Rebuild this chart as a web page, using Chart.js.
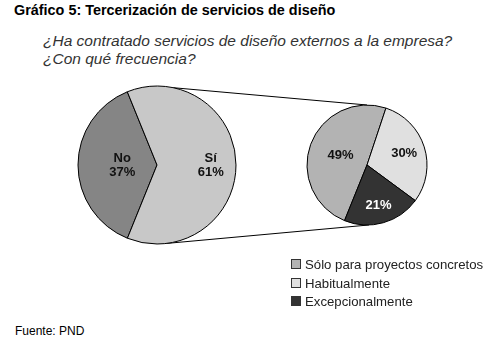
<!DOCTYPE html>
<html>
<head>
<meta charset="utf-8">
<script src="https://cdn.jsdelivr.net/npm/chart.js@4.4.0/dist/chart.umd.min.js"></script>
<style>
    body { margin: 0; background: #fff; font-family: "Liberation Sans", Arial, sans-serif; }
    #wrap { position: relative; width: 492px; height: 350px; overflow: hidden; }
    .title { position: absolute; left: 14px; top: 2px; font-size: 14.4px; font-weight: bold; color: #000; white-space: nowrap; }
    .question { position: absolute; left: 43px; font-size: 15.5px; font-style: italic; color: #333; white-space: nowrap; }
    #big-wrap { position: absolute; left: 0; top: 70px; width: 492px; height: 190px; }
    #small-wrap { position: absolute; left: 300px; top: 98px; width: 134px; height: 134px; z-index: 2; }
    #legend { position: absolute; left: 291px; top: 256px; font-size: 13.2px; color: #222; }
    .leg-row { height: 18.5px; line-height: 18px; white-space: nowrap; }
    .leg-box { display: inline-block; width: 8px; height: 8px; border: 1px solid #333; margin-right: 4px; vertical-align: 0px; }
    .source { position: absolute; left: 15px; top: 324px; font-size: 12px; color: #000; }
</style>
</head>
<body>
<div id="wrap">
    <div class="title">Gráfico 5: Tercerización de servicios de diseño</div>
    <div class="question" style="top: 32px;">¿Ha contratado servicios de diseño externos a la empresa?</div>
    <div class="question" style="top: 50px;">¿Con qué frecuencia?</div>
    <div id="big-wrap"><canvas id="big-chart" width="492" height="190"></canvas></div>
    <div id="small-wrap"><canvas id="small-chart" width="134" height="134"></canvas></div>
    <div id="legend"></div>
    <div class="source">Fuente: PND</div>
</div>
<script>
// Data
const bigLabels = ['No', 'Sí'];
const bigValues = [37, 61];
const bigColors = ['#858585', '#c8c8c8'];

const smallLabels = ['Sólo para proyectos concretos', 'Habitualmente', 'Excepcionalmente'];
const smallValues = [49, 30, 21];
const smallColors = ['#b3b3b3', '#e0e0e0', '#333333'];

let bigChart, smallChart;

// Draws the text inside each slice
const sliceLabelPlugin = {
    id: 'sliceLabels',
    afterDatasetsDraw(chart, args, opts) {
        const ctx = chart.ctx;
        const meta = chart.getDatasetMeta(0);
        ctx.save();
        ctx.font = 'bold 13px "Liberation Sans", Arial, sans-serif';
        ctx.textAlign = 'center';
        ctx.textBaseline = 'middle';
        meta.data.forEach((arc, i) => {
            const mid = (arc.startAngle + arc.endAngle) / 2;
            const r = arc.outerRadius * opts.radial[i];
            const x = arc.x + Math.cos(mid) * r;
            const y = arc.y + Math.sin(mid) * r;
            const lines = opts.text(i);
            ctx.fillStyle = opts.colors[i];
            lines.forEach((line, j) => {
                ctx.fillText(line, x, y + (j - (lines.length - 1) / 2) * 14);
            });
        });
        ctx.restore();
    }
};

// Draws the two lines joining the pies
const connectorPlugin = {
    id: 'connector',
    beforeDatasetsDraw(chart) {
        if (!smallChart) return;
        const big = chart.getDatasetMeta(0).data[0];
        const small = smallChart.getDatasetMeta(0).data[0];
        const offX = 300, offY = 98 - 70;
        const sx = small.x + offX, sy = small.y + offY;
        const pt = (cx, cy, r, deg) => [cx + r * Math.cos(deg * Math.PI / 180), cy + r * Math.sin(deg * Math.PI / 180)];
        const ctx = chart.ctx;
        ctx.save();
        ctx.strokeStyle = '#000';
        ctx.lineWidth = 1;
        const a1 = pt(big.x, big.y, big.outerRadius, -78);
        const b1 = pt(sx, sy, small.outerRadius, -90);
        const a2 = pt(big.x, big.y, big.outerRadius, 83);
        const b2 = pt(sx, sy, small.outerRadius, 88);
        ctx.beginPath();
        ctx.moveTo(a1[0], a1[1]);
        ctx.lineTo(b1[0], b1[1]);
        ctx.moveTo(a2[0], a2[1]);
        ctx.lineTo(b2[0], b2[1]);
        ctx.stroke();
        ctx.restore();
    }
};

function pieOptions(radius, padding, labelOpts) {
    return {
        responsive: false,
        animation: false,
        rotation: 202,
        radius: radius,
        layout: { padding: padding },
        events: [],
        plugins: {
            legend: { display: false },
            tooltip: { enabled: false },
            sliceLabels: labelOpts
        }
    };
}

document.addEventListener('DOMContentLoaded', function() {
    smallChart = new Chart(document.getElementById('small-chart').getContext('2d'), {
        type: 'pie',
        data: {
            labels: smallLabels,
            datasets: [{
                data: smallValues,
                backgroundColor: smallColors,
                borderColor: '#000',
                borderWidth: 1,
                hoverOffset: 0
            }]
        },
        options: pieOptions(60, 0, {
            radial: [0.47, 0.65, 0.7],
            colors: ['#111', '#111', '#fff'],
            text: i => [smallValues[i] + '%']
        }),
        plugins: [sliceLabelPlugin]
    });

    bigChart = new Chart(document.getElementById('big-chart').getContext('2d'), {
        type: 'pie',
        data: {
            labels: bigLabels,
            datasets: [{
                data: bigValues,
                backgroundColor: bigColors,
                borderColor: '#000',
                borderWidth: 1,
                hoverOffset: 0
            }]
        },
        options: pieOptions(79, { left: 79, right: 257, top: 16, bottom: 16 }, {
            radial: [0.44, 0.68],
            colors: ['#111', '#111'],
            text: i => [bigLabels[i], bigValues[i] + '%']
        }),
        plugins: [sliceLabelPlugin, connectorPlugin]
    });

    // Legend
    const legend = document.getElementById('legend');
    smallLabels.forEach((label, i) => {
        const row = document.createElement('div');
        row.className = 'leg-row';
        row.innerHTML = '<span class="leg-box" style="background:' + smallColors[i] + '"></span>' + label;
        legend.appendChild(row);
    });
});
</script>
</body>
</html>
